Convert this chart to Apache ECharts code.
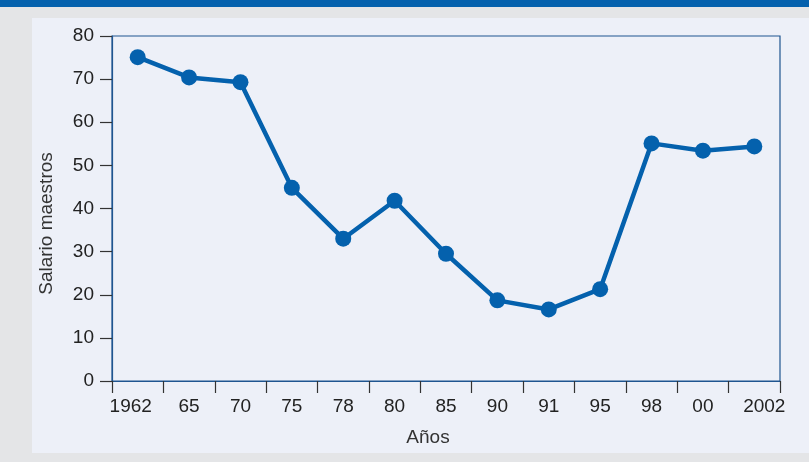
<!DOCTYPE html>
<html>
<head>
<meta charset="utf-8">
<script src="https://cdn.jsdelivr.net/npm/echarts@6/dist/echarts.min.js"></script>
<style>
html,body{margin:0;padding:0;background:#e4e5e7;}
#c{width:809px;height:462px;}
</style>
</head>
<body>
<div id="c"></div>
<script>
const categories = ['1962','65','70','75','78','80','85','90','91','95','98','00','2002'];
const salario = [75.1, 70.4, 69.3, 44.8, 33.0, 41.8, 29.5, 18.7, 16.6, 21.3, 55.1, 53.4, 54.4];
const yTicks = [0, 10, 20, 30, 40, 50, 60, 70, 80];

const chart = echarts.init(document.getElementById('c'), null, {renderer:'canvas'});
const font = '"Liberation Sans", Arial, sans-serif';
const fs = 19;
chart.setOption({
  animation: false,
  backgroundColor: '#e4e5e7',
  graphic: [
    {type:'rect', z:-10, shape:{x:0,y:0,width:809,height:7}, style:{fill:'#0461ad'}},
    {type:'rect', z:-10, shape:{x:32,y:18,width:777,height:435}, style:{fill:'#edf0f8'}}
  ],
  grid: {left:112, top:36, right:29, bottom:81, show:true, borderColor:'#1f5590', borderWidth:1.2, backgroundColor:'#edf0f8'},
  xAxis: {
    type:'category', data: categories, boundaryGap:true,
    name:'Años', nameLocation:'middle', nameGap:47,
    nameTextStyle:{fontFamily:font, fontSize:fs, color:'#333', padding:[0,36,0,0]},
    axisLine:{show:true, lineStyle:{color:'#1f5590', width:1.2}},
    axisTick:{show:true, interval:0, alignWithLabel:false, length:12, lineStyle:{color:'#333', width:1.2}},
    axisLabel:{
      interval:0, margin:16, fontFamily:font, fontSize:fs, color:'#222',
      formatter: function(v, i){
        if (i === 0) return '{f|' + v + '}';
        if (i === categories.length - 1) return '{l|' + v + '}';
        return v;
      },
      rich:{
        f:{fontFamily:font, fontSize:fs, color:'#222', padding:[0,14,0,0]},
        l:{fontFamily:font, fontSize:fs, color:'#222', padding:[0,0,0,20]}
      }
    },
    splitLine:{show:false}
  },
  yAxis: {
    type:'value', min:yTicks[0], max:yTicks[yTicks.length-1], interval:10,
    name:'Salario maestros', nameLocation:'middle', nameGap:56,
    nameTextStyle:{fontFamily:font, fontSize:fs, color:'#333', padding:[0,30,0,0]},
    axisLine:{show:true, lineStyle:{color:'#1f5590', width:1.2}},
    axisTick:{show:true, length:12, lineStyle:{color:'#333', width:1.2}},
    axisLabel:{margin:18, fontFamily:font, fontSize:fs, color:'#222'},
    splitLine:{show:false}
  },
  series: [{
    type:'line', data: salario,
    symbol:'circle', symbolSize:16,
    itemStyle:{color:'#0461ad'},
    lineStyle:{color:'#0461ad', width:4.5}
  }]
});
</script>
</body>
</html>
